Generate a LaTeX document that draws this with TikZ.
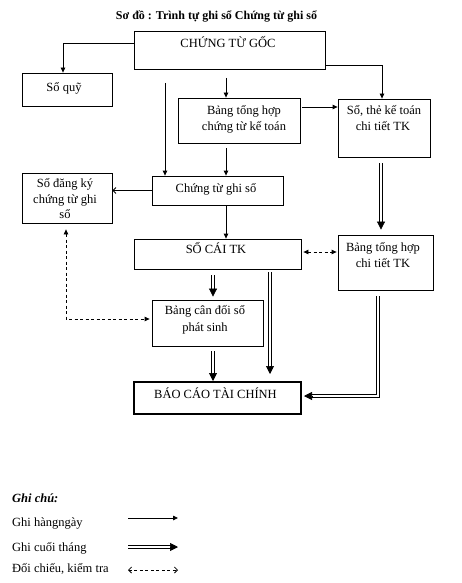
\documentclass[tikz,border=0pt]{standalone}
\usepackage{fontspec}
\setmainfont{Liberation Serif}
\usetikzlibrary{arrows.meta}
\begin{document}
\begin{tikzpicture}[x=1pt,y=-1pt,
  box/.style={draw, line width=0.8pt, inner sep=0pt},
  txt/.style={anchor=base, inner sep=0pt, font=\fontsize{12.5}{14}\selectfont},
  ltxt/.style={anchor=base west, inner sep=0pt, font=\fontsize{12.5}{14}\selectfont},
  arr/.style={line width=0.8pt, -{Triangle[length=5pt,width=4.5pt]}},
  openarr/.style={line width=0.8pt, -{Straight Barb[length=3pt,width=6pt]}},
  dl/.style={line width=0.75pt},
  dtip/.style={line width=0.7pt, -{Triangle[length=8pt,width=8pt]}},
  dasharr/.style={line width=0.8pt, dash pattern=on 3pt off 2.5pt, {Triangle[length=5pt,width=4.5pt]}-{Triangle[length=5pt,width=4.5pt]}},
  dashopen/.style={line width=0.8pt, dash pattern=on 3pt off 2.5pt, {Straight Barb[length=3pt,width=6pt]}-{Straight Barb[length=3pt,width=6pt]}},
]
\useasboundingbox (0,0) rectangle (461,583);

% title
\node[anchor=base, inner sep=0pt, font=\bfseries\fontsize{12}{14}\selectfont] (title) at (216.5,20) {Sơ đồ : Trình tự ghi sổ Chứng từ ghi sổ};

% boxes
\node[box, minimum width=191pt, minimum height=38pt] (ctg) at (229.5,50) {};
\node[box, minimum width=90pt, minimum height=33pt] (soquy) at (67,89.5) {};
\node[box, minimum width=122pt, minimum height=45pt] (bth) at (239,120.5) {};
\node[box, minimum width=92pt, minimum height=58pt] (sothe) at (384,128) {};
\node[box, minimum width=90pt, minimum height=50pt] (sodk) at (67,198) {};
\node[box, minimum width=131pt, minimum height=29pt] (ctgs) at (217.5,190.5) {};
\node[box, minimum width=167pt, minimum height=30pt] (socai) at (217.5,254) {};
\node[box, minimum width=95pt, minimum height=55pt] (bthct) at (385.5,262.5) {};
\node[box, minimum width=111pt, minimum height=46pt] (bcd) at (207.5,323) {};
\node[box, line width=2pt, minimum width=167pt, minimum height=32pt] (bctc) at (217.5,398) {};

% texts
\node[txt] (t-ctg) at (228,48) {CHỨNG TỪ GỐC};
\node[txt] (t-soquy) at (64,92) {Sổ quỹ};
\node[txt] (t-bth1) at (244,114) {Bảng tổng hợp};
\node[txt] (t-bth2) at (244,130) {chứng từ kế toán};
\node[txt] (t-sothe1) at (384,114) {Sổ, thẻ kế toán};
\node[txt] (t-sothe2) at (383,131) {chi tiết TK};
\node[txt] (t-sodk1) at (65,187) {Sổ đăng ký};
\node[txt] (t-sodk2) at (65,203) {chứng từ ghi};
\node[txt] (t-sodk3) at (65,218) {sổ};
\node[txt] (t-ctgs) at (216,192) {Chứng từ ghi sổ};
\node[txt] (t-socai) at (216,253) {SỔ CÁI TK};
\node[txt] (t-bthct1) at (383,251) {Bảng tổng hợp};
\node[txt] (t-bthct2) at (383,267) {chi tiết TK};
\node[txt] (t-bcd1) at (205,314) {Bảng cân đối sổ};
\node[txt] (t-bcd2) at (205,331) {phát sinh};
\node[txt] (t-bctc) at (215.5,398) {BÁO CÁO TÀI CHÍNH};

% helper coordinates
\coordinate (c226) at (226,0);
\coordinate (c213) at (213,0);
\coordinate (c270) at (270,0);
\coordinate (c381) at (381,0);
\coordinate (c378) at (378,0);

% thin arrows
\draw[arr] ([yshift=7pt]ctg.west) -| ([xshift=-4pt]soquy.north);
\coordinate (v1) at (165,83);
\draw[arr] (v1) -- (v1 |- ctgs.north);
\coordinate (v2) at (226,78);
\draw[arr] (v2) -- (v2 |- bth.north);
\draw[arr] ([xshift=2pt,yshift=13.5pt]bth.east) coordinate (a4) -- (a4 -| sothe.west);
\draw[arr] ([yshift=-15pt]ctg.east) -| ([xshift=-2pt]sothe.north);
\coordinate (v3) at (226,148);
\draw[arr] (v3) -- (v3 |- ctgs.north);
\draw[openarr] (ctgs.west) -- (ctgs.west -| sodk.east);
\draw[arr] (c226 |- ctgs.south) -- (c226 |- socai.north);

% dashed
\draw[dasharr] ([xshift=2pt,yshift=2pt]socai.east) coordinate (d1) -- ([xshift=-1pt]d1 -| bthct.west);
\draw[dasharr] ([xshift=-1pt,yshift=-6pt]sodk.south) |- ([xshift=-2pt,yshift=4pt]bcd.west);

% double arrows (two parallel lines + tip)
% Sổ thẻ -> Bảng tổng hợp chi tiết
\coordinate (p1a) at ([yshift=-6pt]c381 |- sothe.south);
\coordinate (p1b) at ([yshift=12pt]c381 |- bthct.north);
\draw[dl] ([xshift=-1.2pt]p1a) -- ([xshift=-1.2pt]p1b);
\draw[dl] ([xshift=1.2pt]p1a) -- ([xshift=1.2pt]p1b);
\draw[dtip] ([yshift=13pt]c381 |- bthct.north) -- ([yshift=5pt]c381 |- bthct.north);

% Sổ cái -> Bảng cân đối
\coordinate (p2a) at ([yshift=-6pt]c213 |- socai.south);
\coordinate (p2b) at ([yshift=10pt]c213 |- bcd.north);
\draw[dl] ([xshift=-1.2pt]p2a) -- ([xshift=-1.2pt]p2b);
\draw[dl] ([xshift=1.2pt]p2a) -- ([xshift=1.2pt]p2b);
\draw[dtip] ([yshift=11pt]c213 |- bcd.north) -- ([yshift=3pt]c213 |- bcd.north);

% Sổ cái -> Báo cáo
\coordinate (p3a) at ([yshift=-3pt]c270 |- socai.south);
\coordinate (p3b) at ([yshift=14pt]c270 |- bctc.north);
\draw[dl] ([xshift=-1.2pt]p3a) -- ([xshift=-1.2pt]p3b);
\draw[dl] ([xshift=1.2pt]p3a) -- ([xshift=1.2pt]p3b);
\draw[dtip] ([yshift=15pt]c270 |- bctc.north) -- ([yshift=7pt]c270 |- bctc.north);

% Bảng cân đối -> Báo cáo
\coordinate (p4a) at ([yshift=-5pt]c213 |- bcd.south);
\coordinate (p4b) at ([yshift=7pt]c213 |- bctc.north);
\draw[dl] ([xshift=-1.2pt]p4a) -- ([xshift=-1.2pt]p4b);
\draw[dl] ([xshift=1.2pt]p4a) -- ([xshift=1.2pt]p4b);
\draw[dtip] ([yshift=8pt]c213 |- bctc.north) -- (c213 |- bctc.north);

% Bảng tổng hợp chi tiết -> Báo cáo
\coordinate (k0) at ([yshift=-6pt]c378 |- bthct.south);
\coordinate (k2) at ([xshift=9pt,yshift=2pt]bctc.east);
\coordinate (k1) at (c378 |- k2);
\draw[dl] ([xshift=1.2pt]k0) -- ([xshift=1.2pt,yshift=-1.2pt]k1) -- ([yshift=-1.2pt]k2);
\draw[dl] ([xshift=-1.2pt]k0) -- ([xshift=-1.2pt,yshift=1.2pt]k1) -- ([yshift=1.2pt]k2);
\draw[dtip] ([xshift=10pt,yshift=2pt]bctc.east) -- ([xshift=2pt,yshift=2pt]bctc.east);

% legend
\node[anchor=base west, inner sep=0pt, font=\bfseries\itshape\fontsize{12.5}{14}\selectfont] (lg) at (12,502) {Ghi chú:};
\node[ltxt] (lg1) at (12,526) {Ghi hàngngày};
\node[ltxt] (lg2) at (12,551) {Ghi cuối tháng};
\node[ltxt] (lg3) at (12,572) {Đối chiếu, kiểm tra};
\coordinate (l1a) at (128,518);
\coordinate (l1b) at (178,518);
\coordinate (l2a) at (128,547);
\coordinate (l2b) at (171,547);
\coordinate (l2c) at (178,547);
\coordinate (l3a) at (128,570);
\coordinate (l3b) at (178,570);
\draw[arr] (l1a) -- (l1b);
\draw[dl] ([yshift=1.2pt]l2a) -- ([yshift=1.2pt]l2b);
\draw[dl] ([yshift=-1.2pt]l2a) -- ([yshift=-1.2pt]l2b);
\draw[dtip] ([xshift=-8pt]l2c) -- (l2c);
\draw[dashopen] (l3a) -- (l3b);
\end{tikzpicture}
\end{document}
